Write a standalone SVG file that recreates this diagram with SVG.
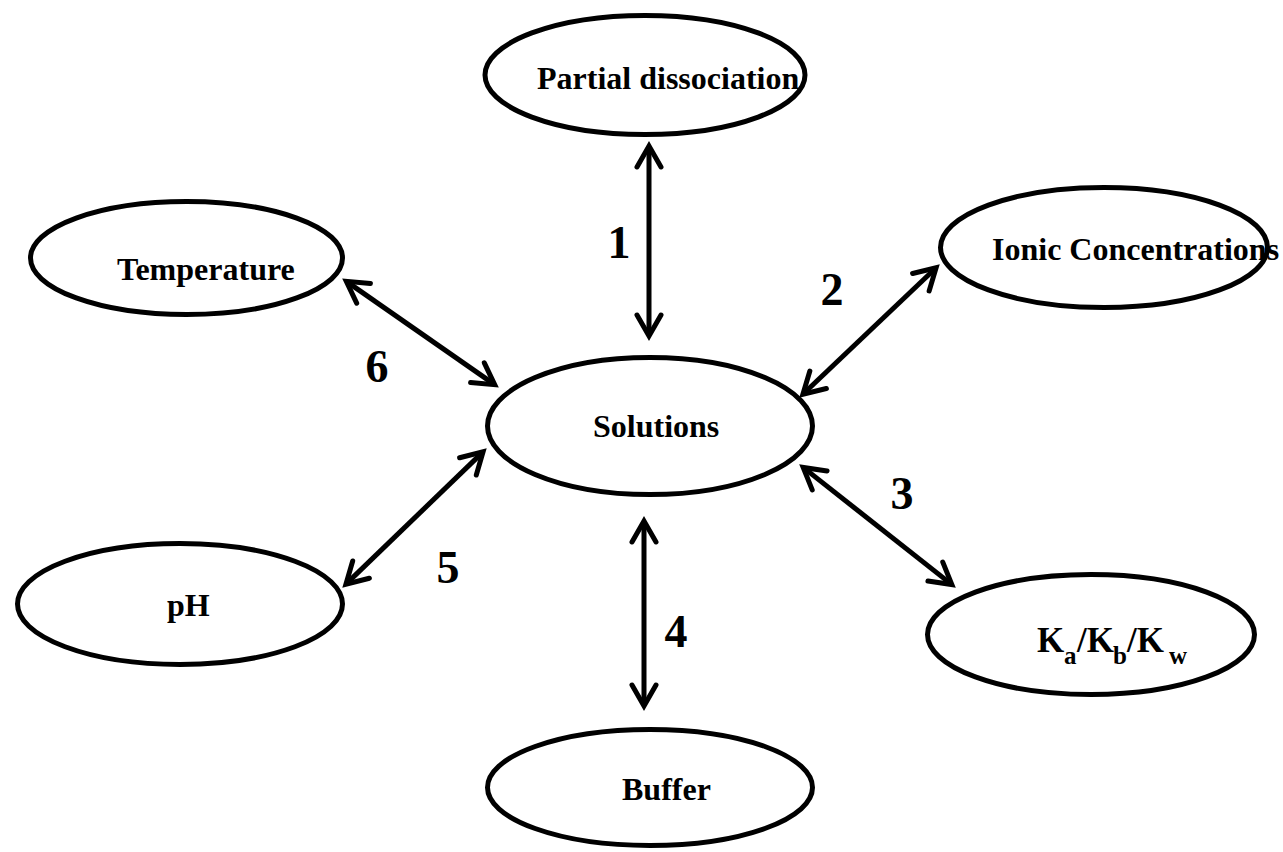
<svg xmlns="http://www.w3.org/2000/svg" width="1283" height="852" viewBox="0 0 1283 852">
  <style>
    .node ellipse { fill: #ffffff; stroke: #000000; stroke-width: 5; }
    .label { font-family: "Liberation Serif", "Times New Roman", serif; font-weight: bold; font-size: 32px; fill: #000000; }
    .big { font-size: 35px; }
    .sub { font-size: 25px; }
    .num { font-family: "Liberation Serif", "Times New Roman", serif; font-weight: bold; font-size: 46px; fill: #000000; text-anchor: middle; }
    .link { stroke: #000000; stroke-width: 5; fill: none; marker-start: url(#chev); marker-end: url(#chev); }
  </style>
  <defs>
    <marker id="chev" markerUnits="userSpaceOnUse" orient="auto-start-reverse" viewBox="-30 -20 40 40" refX="-4" refY="0" markerWidth="40" markerHeight="40" overflow="visible">
      <path d="M -21 -12 L 0 0 L -21 12" fill="none" stroke="#000000" stroke-width="5" stroke-linecap="round" stroke-linejoin="miter"/>
    </marker>
  </defs>
  <rect width="1283" height="852" fill="#ffffff"/>

  <!-- double-headed connectors with their numbers -->
  <g id="connectors">
    <line class="link" x1="649" y1="150" x2="649" y2="332"/>
    <line class="link" x1="805.8" y1="391.5" x2="933.2" y2="270.5"/>
    <line class="link" x1="806.3" y1="469.9" x2="948.7" y2="582.1"/>
    <line class="link" x1="644" y1="525" x2="644" y2="702"/>
    <line class="link" x1="480.2" y1="454.6" x2="348.8" y2="581.4"/>
    <line class="link" x1="491.4" y1="382.4" x2="349.6" y2="283.6"/>
    <text class="num" x="619" y="258">1</text>
    <text class="num" x="832" y="305">2</text>
    <text class="num" x="902" y="509">3</text>
    <text class="num" x="676" y="647">4</text>
    <text class="num" x="448" y="583">5</text>
    <text class="num" x="377" y="382">6</text>
  </g>

  <g id="partial-dissociation" class="node">
    <ellipse cx="645" cy="75" rx="160" ry="59.5"/>
    <text class="label" x="537" y="89">Partial dissociation</text>
  </g>

  <g id="ionic-concentrations" class="node">
    <ellipse cx="1104" cy="247.5" rx="163.5" ry="60"/>
    <text class="label" x="992" y="260">Ionic Concentrations</text>
  </g>

  <g id="temperature" class="node">
    <ellipse cx="186.5" cy="258" rx="156" ry="56.5"/>
    <text class="label" x="117" y="280">Temperature</text>
  </g>

  <g id="solutions" class="node">
    <ellipse cx="650" cy="426" rx="162.5" ry="68.5"/>
    <text class="label" x="593" y="437">Solutions</text>
  </g>

  <g id="ph" class="node">
    <ellipse cx="180" cy="604" rx="162.5" ry="60.5"/>
    <text class="label" x="167" y="616">pH</text>
  </g>

  <g id="buffer" class="node">
    <ellipse cx="650" cy="787.5" rx="162.5" ry="58"/>
    <text class="label" x="622" y="800">Buffer</text>
  </g>

  <g id="constants" class="node">
    <ellipse cx="1091" cy="634.5" rx="163.5" ry="60"/>
    <text class="label big" y="652"><tspan x="1037">K</tspan><tspan class="sub" x="1064" y="664">a</tspan><tspan x="1077" y="652">/K</tspan><tspan class="sub" x="1113" y="664">b</tspan><tspan x="1127" y="652">/K</tspan><tspan class="sub" x="1169" y="664">w</tspan></text>
  </g>
</svg>
